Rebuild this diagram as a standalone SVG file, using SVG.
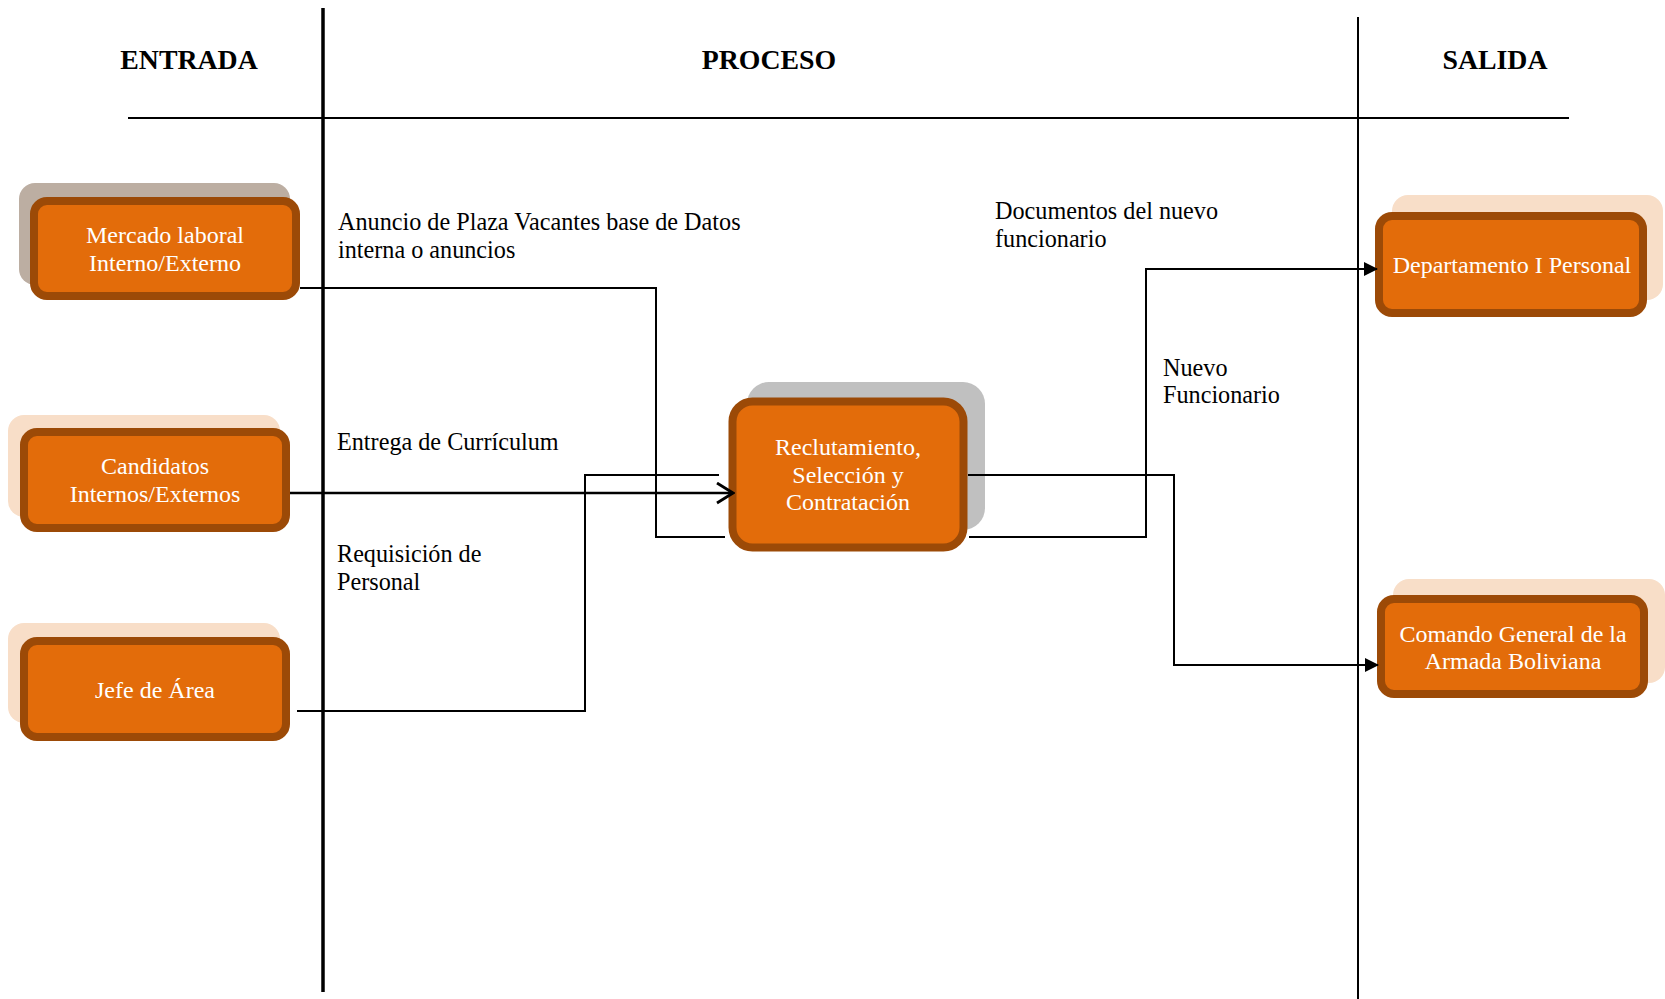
<svg xmlns="http://www.w3.org/2000/svg" width="1665" height="999" viewBox="0 0 1665 999">
<style>
.t{font-family:"Liberation Serif","Times New Roman",serif;font-size:24.2px;fill:#000}
.h{font-family:"Liberation Serif","Times New Roman",serif;font-size:27.8px;font-weight:bold;fill:#000;text-anchor:middle}
.nt{font-family:"Liberation Serif","Times New Roman",serif;font-size:24px;fill:#fff;text-anchor:middle}
.box{fill:#e36c0a;stroke:#9c4a07;stroke-width:8}
.sh{fill:#f8dec8}
.ln{fill:none;stroke:#000;stroke-width:2}
</style>
<defs>
<marker id="open" markerWidth="20" markerHeight="24" refX="18" refY="11" orient="auto" markerUnits="userSpaceOnUse">
<path d="M2,1 L18,11 L2,21" fill="none" stroke="#000" stroke-width="2.8"/>
</marker>
<marker id="fill" markerWidth="14" markerHeight="14" refX="13" refY="7" orient="auto" markerUnits="userSpaceOnUse">
<path d="M0,0 L14,7 L0,14 Z" fill="#000"/>
</marker>
</defs>
<rect width="1665" height="999" fill="#fff"/>
<g id="frame">
<line x1="323" y1="8" x2="323" y2="992" stroke="#000" stroke-width="3.5"/>
<line x1="1358" y1="17" x2="1358" y2="999" stroke="#000" stroke-width="2"/>
<line x1="128" y1="118" x2="1569" y2="118" stroke="#000" stroke-width="2"/>
<text class="h" x="189" y="69">ENTRADA</text>
<text class="h" x="769" y="69">PROCESO</text>
<text class="h" x="1495" y="69">SALIDA</text>
</g>
<g id="mercado">
<rect x="19" y="183" width="271" height="102" rx="16" fill="#bcaea2"/>
<rect class="box" x="34" y="201" width="262" height="95" rx="13"/>
<text class="nt" x="165" y="243">Mercado laboral</text>
<text class="nt" x="165" y="271">Interno/Externo</text>
</g>
<g id="candidatos">
<rect class="sh" x="8" y="415" width="272" height="102" rx="16"/>
<rect class="box" x="24" y="432" width="262" height="96" rx="13"/>
<text class="nt" x="155" y="474">Candidatos</text>
<text class="nt" x="155" y="502">Internos/Externos</text>
</g>
<g id="jefe">
<rect class="sh" x="8" y="623" width="272" height="100" rx="16"/>
<rect class="box" x="24" y="641" width="262" height="96" rx="13"/>
<text class="nt" x="155" y="698">Jefe de Área</text>
</g>
<g id="reclutamiento">
<rect x="747" y="382" width="238" height="148" rx="22" fill="#c0c0c0"/>
<rect class="box" x="732.5" y="401.5" width="231" height="146" rx="20" stroke-width="9"/>
<text class="nt" x="848" y="455">Reclutamiento,</text>
<text class="nt" x="848" y="483">Selección y</text>
<text class="nt" x="848" y="510">Contratación</text>
</g>
<g id="departamento">
<rect class="sh" x="1392" y="195" width="271" height="105" rx="16"/>
<rect class="box" x="1379" y="216" width="264" height="97" rx="13"/>
<text class="nt" x="1512" y="273">Departamento I Personal</text>
</g>
<g id="comando">
<rect class="sh" x="1393" y="579" width="272" height="104" rx="16"/>
<rect class="box" x="1381" y="599" width="263" height="95" rx="13"/>
<text class="nt" x="1513" y="642">Comando General de la</text>
<text class="nt" x="1513" y="669">Armada Boliviana</text>
</g>
<g id="connectors">
<polyline class="ln" points="300,288 656,288 656,537 725,537"/>
<line x1="290" y1="493" x2="733" y2="493" stroke="#000" stroke-width="2.5" marker-end="url(#open)"/>
<polyline class="ln" points="297,711 585,711 585,475 719,475"/>
<polyline class="ln" points="969,537 1146,537 1146,269 1377,269" marker-end="url(#fill)"/>
<polyline class="ln" points="968,475 1174,475 1174,665 1378,665" marker-end="url(#fill)"/>
<text class="t" x="338" y="230">Anuncio de Plaza Vacantes base de Datos</text>
<text class="t" x="338" y="258">interna o anuncios</text>
<text class="t" x="337" y="450">Entrega de Currículum</text>
<text class="t" x="337" y="562">Requisición de</text>
<text class="t" x="337" y="590">Personal</text>
<text class="t" x="995" y="219">Documentos del nuevo</text>
<text class="t" x="995" y="247">funcionario</text>
<text class="t" x="1163" y="376">Nuevo</text>
<text class="t" x="1163" y="403">Funcionario</text>
</g>
</svg>
